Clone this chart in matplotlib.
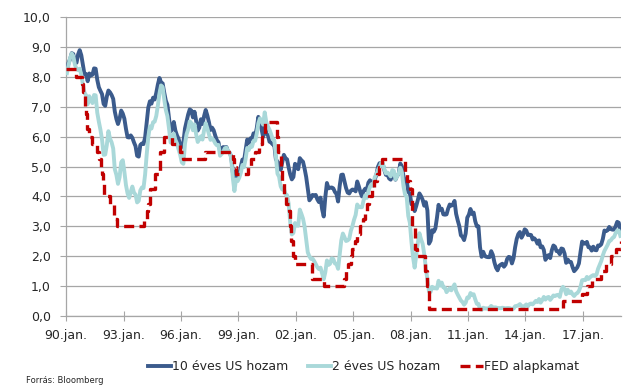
import numpy as np
import matplotlib
matplotlib.use("Agg")
import matplotlib.pyplot as plt
from matplotlib.lines import Line2D

plt.rcParams['font.family'] = ['DejaVu Sans']

# monthly averages, Jan 1990 - Dec 2018
start_year = 1990
us10y = [
    8.21, 8.47, 8.59, 8.79, 8.76, 8.48, 8.47, 8.75, 8.89, 8.72, 8.39, 8.08,
    8.09, 7.85, 8.11, 8.04, 8.07, 8.28, 8.27, 7.90, 7.65, 7.53, 7.42, 7.09,
    7.03, 7.34, 7.54, 7.48, 7.39, 7.26, 6.84, 6.59, 6.42, 6.59, 6.87, 6.77,
    6.60, 6.26, 5.98, 5.97, 6.04, 5.96, 5.81, 5.68, 5.36, 5.33, 5.72, 5.77,
    5.75, 5.97, 6.48, 6.97, 7.18, 7.10, 7.30, 7.24, 7.46, 7.74, 7.96, 7.81,
    7.78, 7.47, 7.20, 7.06, 6.63, 6.17, 6.28, 6.49, 6.20, 6.04, 5.93, 5.71,
    5.65, 5.81, 6.27, 6.51, 6.74, 6.91, 6.87, 6.64, 6.83, 6.53, 6.20, 6.30,
    6.58, 6.42, 6.69, 6.89, 6.71, 6.49, 6.22, 6.30, 6.21, 6.03, 5.88, 5.81,
    5.54, 5.57, 5.65, 5.64, 5.65, 5.50, 5.46, 5.34, 4.81, 4.53, 4.83, 4.65,
    4.72, 5.00, 5.23, 5.18, 5.54, 5.90, 5.79, 5.94, 5.92, 6.11, 6.03, 6.28,
    6.66, 6.52, 6.26, 5.99, 6.44, 6.10, 6.05, 5.83, 5.80, 5.74, 5.72, 5.24,
    5.16, 5.10, 4.89, 5.14, 5.39, 5.28, 5.24, 4.97, 4.73, 4.57, 4.65, 5.09,
    5.04, 4.91, 5.28, 5.21, 5.16, 4.93, 4.65, 4.26, 3.87, 3.94, 4.05, 4.03,
    4.05, 3.90, 3.81, 3.96, 3.57, 3.33, 3.98, 4.45, 4.27, 4.29, 4.30, 4.27,
    4.15, 4.08, 3.83, 4.35, 4.72, 4.73, 4.50, 4.28, 4.13, 4.10, 4.19, 4.23,
    4.22, 4.17, 4.50, 4.34, 4.14, 4.00, 4.18, 4.26, 4.20, 4.46, 4.54, 4.47,
    4.42, 4.57, 4.72, 4.99, 5.11, 5.11, 5.09, 4.88, 4.72, 4.73, 4.60, 4.56,
    4.76, 4.72, 4.56, 4.69, 4.75, 5.10, 5.00, 4.67, 4.52, 4.53, 4.15, 4.10,
    3.74, 3.74, 3.51, 3.68, 3.88, 4.10, 4.01, 3.89, 3.69, 3.81, 3.53, 2.42,
    2.52, 2.87, 2.82, 2.93, 3.29, 3.72, 3.56, 3.59, 3.40, 3.39, 3.40, 3.59,
    3.73, 3.69, 3.73, 3.85, 3.42, 3.20, 3.01, 2.70, 2.65, 2.54, 2.76, 3.29,
    3.39, 3.58, 3.41, 3.46, 3.17, 3.00, 3.00, 2.30, 1.98, 2.15, 2.01, 1.98,
    1.97, 1.97, 2.17, 2.05, 1.80, 1.62, 1.53, 1.68, 1.72, 1.75, 1.65, 1.72,
    1.91, 1.98, 1.96, 1.76, 1.93, 2.30, 2.58, 2.74, 2.81, 2.62, 2.72, 2.90,
    2.86, 2.71, 2.72, 2.71, 2.56, 2.60, 2.54, 2.42, 2.53, 2.30, 2.33, 2.21,
    1.88, 1.98, 2.04, 1.94, 2.20, 2.36, 2.32, 2.17, 2.17, 2.07, 2.26, 2.24,
    2.09, 1.78, 1.89, 1.81, 1.81, 1.64, 1.50, 1.56, 1.63, 1.76, 2.14, 2.49,
    2.43, 2.42, 2.48, 2.30, 2.30, 2.19, 2.32, 2.21, 2.20, 2.36, 2.35, 2.40,
    2.58, 2.86, 2.84, 2.87, 2.98, 2.91, 2.89, 2.89, 3.00, 3.15, 3.12, 2.83,
]
us2y = [
    8.12, 8.39, 8.63, 8.78, 8.69, 8.40, 8.26, 8.22, 8.27, 8.07, 7.74, 7.47,
    7.38, 7.08, 7.35, 7.23, 7.12, 7.39, 7.38, 6.80, 6.50, 6.23, 5.90, 5.39,
    5.40, 5.72, 6.18, 5.93, 5.81, 5.60, 4.91, 4.72, 4.42, 4.64, 5.14, 5.21,
    4.83, 4.38, 4.10, 3.95, 4.15, 4.33, 4.13, 4.06, 3.80, 3.85, 4.20, 4.30,
    4.28, 4.73, 5.40, 5.99, 6.34, 6.27, 6.48, 6.50, 6.69, 7.04, 7.44, 7.71,
    7.66, 7.25, 6.89, 6.68, 6.27, 5.80, 5.89, 6.10, 5.89, 5.77, 5.57, 5.39,
    5.14, 5.09, 5.76, 6.08, 6.24, 6.51, 6.45, 6.21, 6.41, 6.08, 5.82, 5.91,
    6.01, 5.90, 6.22, 6.45, 6.28, 6.09, 5.89, 5.94, 5.88, 5.77, 5.71, 5.72,
    5.36, 5.42, 5.49, 5.61, 5.63, 5.52, 5.46, 5.27, 4.62, 4.18, 4.57, 4.51,
    4.62, 4.79, 5.05, 4.98, 5.25, 5.62, 5.55, 5.68, 5.66, 5.86, 5.86, 6.10,
    6.44, 6.61, 6.53, 6.40, 6.81, 6.48, 6.34, 6.23, 6.08, 5.91, 5.88, 5.35,
    4.76, 4.66, 4.34, 4.23, 4.26, 4.08, 4.04, 3.76, 3.12, 2.73, 2.78, 3.11,
    3.03, 3.02, 3.56, 3.42, 3.26, 2.99, 2.56, 2.13, 2.00, 1.91, 1.92, 1.84,
    1.74, 1.63, 1.57, 1.62, 1.42, 1.23, 1.47, 1.86, 1.71, 1.75, 1.93, 1.91,
    1.76, 1.74, 1.58, 2.07, 2.53, 2.76, 2.64, 2.51, 2.53, 2.58, 2.85, 3.01,
    3.22, 3.38, 3.73, 3.65, 3.64, 3.64, 3.87, 4.04, 3.95, 4.17, 4.33, 4.41,
    4.35, 4.64, 4.74, 4.89, 4.97, 5.12, 5.12, 4.90, 4.77, 4.80, 4.74, 4.67,
    4.88, 4.85, 4.57, 4.67, 4.77, 4.96, 4.82, 4.34, 4.06, 3.99, 3.35, 3.12,
    2.48, 1.97, 1.62, 2.05, 2.45, 2.77, 2.57, 2.42, 2.08, 1.61, 1.21, 0.82,
    0.81, 0.98, 0.93, 0.93, 0.92, 1.18, 1.02, 1.12, 0.96, 0.95, 0.80, 0.87,
    0.93, 0.86, 0.96, 1.06, 0.83, 0.72, 0.62, 0.52, 0.47, 0.38, 0.45, 0.62,
    0.61, 0.77, 0.70, 0.73, 0.56, 0.41, 0.41, 0.23, 0.21, 0.28, 0.25, 0.26,
    0.24, 0.28, 0.34, 0.29, 0.29, 0.29, 0.25, 0.27, 0.26, 0.28, 0.27, 0.26,
    0.27, 0.27, 0.26, 0.23, 0.25, 0.33, 0.34, 0.36, 0.40, 0.34, 0.30, 0.34,
    0.39, 0.33, 0.40, 0.42, 0.39, 0.45, 0.51, 0.47, 0.57, 0.45, 0.53, 0.64,
    0.55, 0.62, 0.64, 0.54, 0.61, 0.69, 0.67, 0.70, 0.71, 0.64, 0.88, 0.98,
    0.90, 0.73, 0.88, 0.77, 0.82, 0.73, 0.67, 0.74, 0.77, 0.84, 0.98, 1.20,
    1.21, 1.20, 1.31, 1.24, 1.30, 1.34, 1.37, 1.34, 1.38, 1.58, 1.71, 1.84,
    2.03, 2.18, 2.28, 2.38, 2.51, 2.53, 2.61, 2.64, 2.77, 2.86, 2.86, 2.68,
]

# FED target rate changes (decimal year, level)
fed_dates = [
    1990.0, 1990.54, 1990.83, 1990.87, 1990.96, 1990.97,
    1991.02, 1991.09, 1991.18, 1991.33, 1991.6, 1991.71, 1991.83, 1991.87, 1991.93, 1991.97,
    1992.27, 1992.5, 1992.68,
    1994.09, 1994.23, 1994.3, 1994.38, 1994.62, 1994.88,
    1995.09, 1995.52, 1995.97, 1996.08, 1997.24,
    1998.74, 1998.79, 1998.88,
    1999.5, 1999.65, 1999.88,
    2000.08, 2000.22, 2000.38,
    2001.01, 2001.08, 2001.22, 2001.3, 2001.38, 2001.49, 2001.64, 2001.71, 2001.76, 2001.84, 2001.95,
    2002.85, 2003.48,
    2004.5, 2004.61, 2004.72, 2004.86, 2004.96,
    2005.09, 2005.22, 2005.34, 2005.5, 2005.61, 2005.72, 2005.84, 2005.96,
    2006.08, 2006.22, 2006.36, 2006.49,
    2007.72, 2007.83, 2007.95,
    2008.06, 2008.08, 2008.21, 2008.33, 2008.77, 2008.83, 2008.96,
    2015.96, 2016.96,
    2017.2, 2017.45, 2017.96,
    2018.22, 2018.45, 2018.74, 2018.97, 2019.0,
]
fed_rates = [
    8.25, 8.0, 7.75, 7.5, 7.25, 7.0,
    6.75, 6.25, 6.0, 5.75, 5.5, 5.25, 5.0, 4.75, 4.5, 4.0,
    3.75, 3.25, 3.0,
    3.25, 3.5, 3.75, 4.25, 4.75, 5.5,
    6.0, 5.75, 5.5, 5.25, 5.5,
    5.25, 5.0, 4.75,
    5.0, 5.25, 5.5,
    5.75, 6.0, 6.5,
    6.0, 5.5, 5.0, 4.5, 4.0, 3.75, 3.5, 3.0, 2.5, 2.0, 1.75,
    1.25, 1.0,
    1.25, 1.5, 1.75, 2.0, 2.25,
    2.5, 2.75, 3.0, 3.25, 3.5, 3.75, 4.0, 4.25,
    4.5, 4.75, 5.0, 5.25,
    4.75, 4.5, 4.25,
    3.5, 3.0, 2.25, 2.0, 1.5, 1.0, 0.25,
    0.5, 0.75,
    1.0, 1.25, 1.5,
    1.75, 2.0, 2.25, 2.5, 2.5,
]

tick_years = [1990, 1993, 1996, 1999, 2002, 2005, 2008, 2011, 2014, 2017]
tick_labels = ['90.jan.', '93.jan.', '96.jan.', '99.jan.', '02.jan.',
               '05.jan.', '08.jan.', '11.jan.', '14.jan.', '17.jan.']

c10 = '#3b5b8c'
c2 = '#a9d8d9'
cfed = '#c00000'
grid_c = '#a6a6a6'
txt_c = '#262626'

months = start_year + np.arange(len(us10y)) / 12 + 1 / 24

fig = plt.figure(figsize=(6.3, 3.85), dpi=100)
ax = fig.add_axes([0.105, 0.179, 0.881, 0.777])

ax.plot(months, us10y, color=c10, lw=2.8, solid_joinstyle='round', zorder=3)
ax.plot(months, us2y, color=c2, lw=2.8, solid_joinstyle='round', zorder=4)
ax.plot(fed_dates, fed_rates, color=cfed, lw=2.4, drawstyle='steps-post',
        dashes=(3, 1.6), zorder=5)

ax.set_xlim(1990, 2019.0)
ax.set_ylim(0, 10)
ax.set_yticks(np.arange(0, 10.5, 1))
ax.set_yticklabels([f'{v:.1f}'.replace('.', ',') for v in np.arange(0, 10.5, 1)])
ax.set_xticks(tick_years)
ax.set_xticklabels(tick_labels)

ax.grid(axis='y', color=grid_c, lw=0.9)
ax.set_axisbelow(True)
for s in ['top', 'right']:
    ax.spines[s].set_visible(False)
for s in ['left', 'bottom']:
    ax.spines[s].set_color(grid_c)
    ax.spines[s].set_linewidth(0.9)
ax.tick_params(axis='y', length=4, color=grid_c, labelsize=9, labelcolor=txt_c, pad=7)
ax.tick_params(axis='x', direction='inout', length=7, color=grid_c, labelsize=9,
               labelcolor=txt_c, pad=6)

handles = [
    Line2D([], [], color=c10, lw=2.8),
    Line2D([], [], color=c2, lw=2.8),
    Line2D([], [], color=cfed, lw=2.4, dashes=(3, 1.6)),
]
fig.legend(handles, ['10 éves US hozam', '2 éves US hozam', 'FED alapkamat'],
           loc='center', bbox_to_anchor=(0.577, 0.047), ncol=3, frameon=False,
           fontsize=9, labelcolor=txt_c, handlelength=1.8, handletextpad=0.1,
           columnspacing=1.6, borderpad=0, borderaxespad=0)

fig.text(0.041, 0.0105, 'Forrás: Bloomberg', fontsize=6, color=txt_c, va='center')

fig.savefig('out.png', dpi=100)
